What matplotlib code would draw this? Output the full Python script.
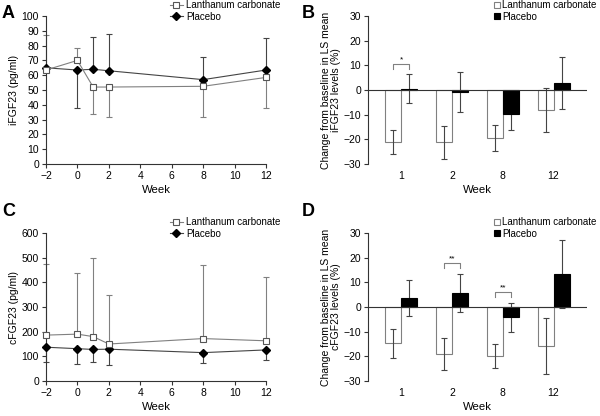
import numpy as np
import matplotlib.pyplot as plt

plt.rcParams['font.family'] = ['Liberation Sans', 'DejaVu Sans']
plt.rcParams['font.size'] = 7.5

# time course data (weeks)
weeks = [-2, 0, 1, 2, 8, 12]

# panel A: iFGF23 (pg/ml)
ifgf_lan = [63.5, 70, 52, 52, 52.5, 58.5]
ifgf_lan_lo = [0, 0, 18.5, 20.5, 20.5, 21]
ifgf_lan_hi = [23.5, 8.5, 0, 0, 0, 0]
ifgf_pla = [65, 63.5, 64, 63, 57, 63.5]
ifgf_pla_lo = [0, 25.5, 0, 0, 0, 0]
ifgf_pla_hi = [0, 0, 22, 25, 15.5, 21.5]

# panel C: cFGF23 (pg/ml)
cfgf_lan = [186, 190, 180, 150, 172, 163]
cfgf_lan_hi = [288, 247, 318, 200, 300, 260]
cfgf_pla = [137, 131, 128, 129, 115, 126]
cfgf_pla_lo = [61, 63, 49, 65, 42, 42]

# bar panels: change from baseline in LS mean (%)
bar_weeks = ['1', '2', '8', '12']
b_lan = [-21.2, -21.2, -19.5, -8.2]
b_lan_err = [4.9, 6.8, 5.4, 8.9]
b_pla = [0.5, -0.8, -9.8, 2.8]
b_pla_err = [5.9, 8.0, 6.5, 10.6]
b_sig = [(0, 10.5, '*')]

d_lan = [-14.7, -19.2, -20.0, -15.8]
d_lan_err = [5.9, 6.5, 4.9, 11.5]
d_pla = [3.7, 5.6, -4.2, 13.3]
d_pla_err = [7.4, 7.7, 5.8, 13.9]
d_sig = [(1, 17.8, '**'), (2, 6.0, '**')]

GREY = '#808080'
DARK = '#222222'

fig = plt.figure(figsize=(6, 4.16), dpi=100)
W, H = 600, 416


def px_axes(left, top, right, bottom):
    return fig.add_axes([left / W, 1 - bottom / H, (right - left) / W, (bottom - top) / H])


def style(ax):
    for s in ['top', 'right']:
        ax.spines[s].set_visible(False)
    for s in ['left', 'bottom']:
        ax.spines[s].set_linewidth(0.8)
        ax.spines[s].set_color('#333333')
    ax.tick_params(length=3, width=0.8, color='#333333', pad=2, labelsize=7.5)


def line_panel(ax, lan, lan_err, pla, pla_err, ylim, ystep, ylabel):
    style(ax)
    ax.errorbar(weeks, lan, yerr=lan_err, fmt='none', ecolor=GREY, elinewidth=0.8,
                capsize=2.5, capthick=0.8, clip_on=False, zorder=2)
    ax.errorbar(weeks, pla, yerr=pla_err, fmt='none', ecolor='#444444', elinewidth=0.8,
                capsize=2.5, capthick=0.8, clip_on=False, zorder=2)
    ax.plot(weeks, lan, color=GREY, lw=0.8, marker='s', ms=4.3, mfc='white', mec='#555555',
            mew=0.8, clip_on=False, zorder=4, label='Lanthanum carbonate')
    ax.plot(weeks, pla, color='#444444', lw=0.8, marker='D', ms=4.3, mfc='black', mec='black',
            clip_on=False, zorder=3, label='Placebo')
    ax.set_xlim(-2, 12)
    ax.set_ylim(*ylim)
    ax.set_xticks(range(-2, 13, 2))
    ax.set_yticks(np.arange(ylim[0], ylim[1] + 1, ystep))
    ax.set_xlabel('Week', fontsize=8.2, labelpad=3)
    ax.set_ylabel(ylabel, fontsize=7.5, labelpad=2)
    ax.legend(loc='upper left', bbox_to_anchor=(0.54, 1.14), frameon=False, fontsize=7,
              handlelength=1.4, handletextpad=0.3, labelspacing=0.15, borderpad=0,
              markerscale=0.9)


def bar_panel(ax, lan, lan_err, pla, pla_err, sig, ylabel):
    style(ax)
    ax.spines['bottom'].set_visible(False)
    x = np.arange(len(bar_weeks))
    w = 0.315
    ax.bar(x - w / 2, lan, w, color='white', edgecolor=GREY, lw=0.8, zorder=2,
           label='Lanthanum carbonate')
    ax.bar(x + w / 2, pla, w, color='black', edgecolor='black', lw=0.8, zorder=2,
           label='Placebo')
    ax.errorbar(x - w / 2, lan, yerr=lan_err, fmt='none', ecolor='#444444', elinewidth=0.8,
                capsize=2.5, capthick=0.8, zorder=3)
    ax.errorbar(x + w / 2, pla, yerr=pla_err, fmt='none', ecolor='#444444', elinewidth=0.8,
                capsize=2.5, capthick=0.8, zorder=1)
    ax.axhline(0, color='#333333', lw=0.8, zorder=4)
    for g, h, t in sig:
        ax.plot([g - w / 2, g - w / 2, g + w / 2, g + w / 2], [h - 2, h, h, h - 2],
                color=GREY, lw=0.8)
        ax.text(g, h + 0.3, t, ha='center', va='bottom', fontsize=6)
    ax.set_xlim(-0.66, len(bar_weeks) - 1 + 0.66)
    ax.set_ylim(-30, 30)
    ax.set_yticks(range(-30, 31, 10))
    ax.set_xticks(x)
    ax.set_xticklabels(bar_weeks)
    ax.tick_params(axis='x', length=0, pad=5)
    ax.set_xlabel('Week', fontsize=8.2, labelpad=3)
    ax.set_ylabel(ylabel, fontsize=7.5, labelpad=2, linespacing=1.0)
    ax.legend(loc='upper left', bbox_to_anchor=(0.555, 1.14), frameon=False, fontsize=7,
              handlelength=0.55, handleheight=0.55, handletextpad=0.25, labelspacing=0.15,
              borderpad=0)


axA = px_axes(46, 16, 266, 164)
line_panel(axA, ifgf_lan, [ifgf_lan_lo, ifgf_lan_hi], ifgf_pla, [ifgf_pla_lo, ifgf_pla_hi],
           (0, 100), 10, 'iFGF23 (pg/ml)')

axC = px_axes(46, 233, 266, 381)
line_panel(axC, cfgf_lan, [[0] * 6, cfgf_lan_hi], cfgf_pla, [cfgf_pla_lo, [0] * 6],
           (0, 600), 100, 'cFGF23 (pg/ml)')

axB = px_axes(368, 16, 587, 164)
bar_panel(axB, b_lan, b_lan_err, b_pla, b_pla_err, b_sig,
          'Change from baseline in LS mean\niFGF23 levels (%)')

axD = px_axes(368, 233, 587, 381)
bar_panel(axD, d_lan, d_lan_err, d_pla, d_pla_err, d_sig,
          'Change from baseline in LS mean\ncFGF23 levels (%)')

for t, (xp, yp) in zip('ABCD', [(2, 5), (302, 5), (2, 203), (302, 203)]):
    fig.text(xp / W, 1 - yp / H, t, fontsize=13, fontweight='bold', va='top', ha='left')

fig.savefig('out.png', dpi=100)
